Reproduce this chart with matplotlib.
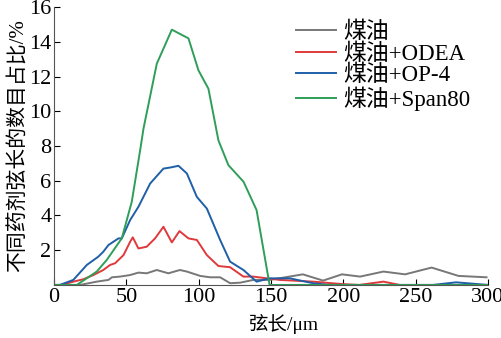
import matplotlib
matplotlib.use("Agg")
import matplotlib.pyplot as plt

plt.rcParams["font.family"] = ["Liberation Serif", "Noto Sans CJK SC"]

# chord length (um) and share (%)
x_kero = [0, 18, 29.5, 37.6, 40, 45.6, 52.6, 58.3, 64, 71, 79, 87, 91.8, 101, 107.9,
          114.8, 121.7, 128.6, 137.8, 149, 172, 186, 199, 211.6, 227.7, 242.7, 261,
          279.6, 299]
y_kero = [0, 0, 0.19, 0.29, 0.44, 0.48, 0.57, 0.71, 0.67, 0.86, 0.67, 0.86, 0.77, 0.52,
          0.44, 0.44, 0.1, 0.13, 0.29, 0.29, 0.61, 0.25, 0.61, 0.48, 0.77, 0.61, 1.0,
          0.52, 0.44]

x_odea = [0, 5, 13.3, 20.3, 27.2, 34, 38.7, 42.2, 48, 52.6, 54.4, 58.3, 64, 69.8, 75.6,
          81.4, 86.7, 92.9, 98.7, 105.6, 113.6, 121.7, 130.9, 137.8, 147, 156, 179,
          199, 211, 227.7, 239, 300]
y_odea = [0, 0, 0.19, 0.33, 0.57, 0.86, 1.15, 1.25, 1.72, 2.49, 2.74, 2.1, 2.2, 2.68,
          3.35, 2.45, 3.1, 2.68, 2.59, 1.72, 1.09, 1.02, 0.48, 0.48, 0.38, 0.29, 0.19,
          0.05, 0, 0.19, 0, 0]

x_op4 = [0, 4, 13.3, 22.6, 30.6, 34, 37.6, 44.5, 46.8, 52.6, 58.3, 66.4, 75.6, 80.2,
         86, 91.8, 98.7, 105.6, 114.8, 121.7, 130.9, 140, 149, 163, 179, 190, 262,
         278, 300]
y_op4 = [0, 0, 0.29, 1.15, 1.63, 1.91, 2.3, 2.68, 2.68, 3.74, 4.5, 5.84, 6.7, 6.76,
         6.86, 6.42, 5.07, 4.4, 2.59, 1.34, 0.86, 0.19, 0.38, 0.38, 0.1, 0, 0,
         0.15, 0]

x_span = [0, 15.7, 29.5, 36.4, 46.8, 53.7, 59.5, 61.8, 71, 81.4, 92.9, 99.8, 106.7,
          113.6, 120.5, 131, 140, 149, 300]
y_span = [0, 0, 0.77, 1.44, 2.68, 4.79, 7.76, 9.0, 12.74, 14.7, 14.2, 12.36, 11.3,
          8.33, 6.9, 5.94, 4.31, 0, 0]

labels = ["煤油", "煤油+ODEA", "煤油+OP-4", "煤油+Span80"]
colors = ["#777777", "#e0393b", "#1f5fa8", "#2e9e58"]

fig = plt.figure(figsize=(5.01, 3.38), dpi=100)
ax = fig.add_axes([0.108, 0.157, 0.866, 0.822])

series = [(x_kero, y_kero), (x_odea, y_odea), (x_op4, y_op4), (x_span, y_span)]
for (xs, ys), lab, c in zip(series, labels, colors):
    ax.plot(xs, ys, color=c, lw=1.4, label=lab)

ax.set_xlim(0, 300)
ax.set_ylim(0, 16)
ax.set_xticks([0, 50, 100, 150, 200, 250, 300])
ax.set_yticks([2, 4, 6, 8, 10, 12, 14, 16])
ax.tick_params(direction="in", length=4, width=0.8, labelsize=16, pad=2)
ax.spines["top"].set_visible(False)
ax.spines["right"].set_visible(False)
for s in ("left", "bottom"):
    ax.spines[s].set_color("#555555")

ax.set_xlabel("弦长/μm", fontsize=14)
ax.xaxis.set_label_coords(0.53, -0.105)
ax.set_ylabel("不同药剂弦长的数目占比/%", fontsize=15, labelpad=0)

ax.legend(loc="upper right", frameon=False, fontsize=16.5, handlelength=1.75,
          labelspacing=0.0, handletextpad=0.35, borderaxespad=0.0,
          bbox_to_anchor=(0.958, 0.962), bbox_transform=fig.transFigure)

fig.savefig("out.png", dpi=100)
